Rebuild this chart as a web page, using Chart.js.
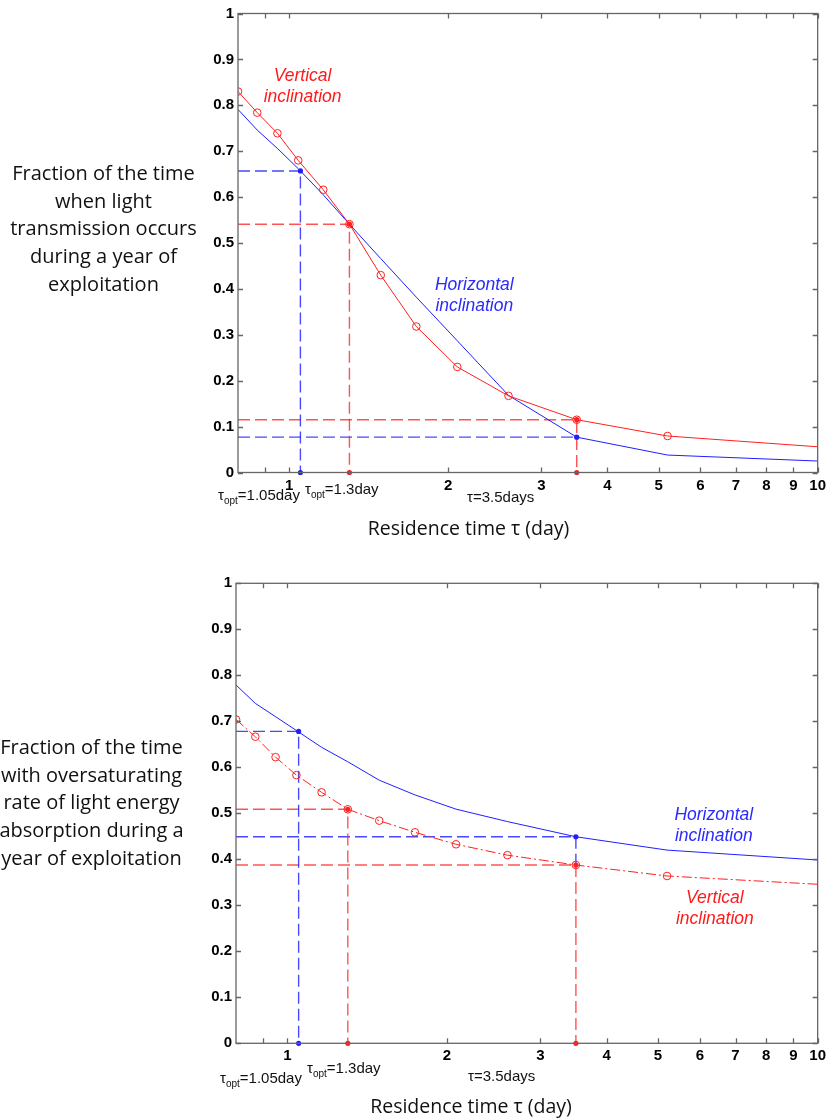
<!DOCTYPE html>
<html>
<head>
<meta charset="utf-8">
<script src="https://cdn.jsdelivr.net/npm/chart.js@4.4.1/dist/chart.umd.min.js"></script>
<style>
  body { margin: 0; background: #fff; }
  #wrap { position: relative; width: 830px; height: 1118px; overflow: hidden; }
  canvas { position: absolute; left: 0; }
  #transmission { top: 0; }
  #saturation { top: 560px; }
</style>
</head>
<body>
<div id="wrap">
  <canvas id="transmission" width="830" height="560"></canvas>
  <canvas id="saturation" width="830" height="558"></canvas>
</div>
<script>
// residence time tau (day), shared by every curve
const tau = [0.8, 0.87, 0.95, 1.04, 1.16, 1.3, 1.49, 1.74, 2.08, 2.6, 3.5, 5.2, 10];

// fraction of the time when light transmission occurs
const transHorizontal = [0.791, 0.746, 0.706, 0.662, 0.605, 0.541, 0.466, 0.382, 0.287, 0.168, 0.077, 0.038, 0.025];
const transVertical   = [0.83, 0.784, 0.739, 0.68, 0.616, 0.541, 0.43, 0.318, 0.23, 0.167, 0.115, 0.0795, 0.056];

// fraction of the time with oversaturating absorption
const satHorizontal = [0.779, 0.739, 0.71, 0.68, 0.6435, 0.612, 0.572, 0.54, 0.509, 0.482, 0.449, 0.42, 0.3985];
const satVertical   = [0.704, 0.6665, 0.622, 0.583, 0.5456, 0.5087, 0.484, 0.4587, 0.4326, 0.409, 0.3876, 0.3637, 0.3457];

// marked residence times and the values read there
const markTau  = [1.05, 1.3, 3.5];
const markSub  = ['opt', 'opt', ''];
const markUnit = ['day', 'day', 'days'];
const transMarkH = [0.657, null, 0.077];
const transMarkV = [null, 0.541, 0.115];
const satMarkH   = [0.678, null, 0.449];
const satMarkV   = [null, 0.5087, 0.3876];

// axis ticks
const xTicks = [0.9, 1, 2, 3, 4, 5, 6, 7, 8, 9, 10];
const xTickLabels = ['', '1', '2', '3', '4', '5', '6', '7', '8', '9', '10'];
const yTicks = [0, 0.1, 0.2, 0.3, 0.4, 0.5, 0.6, 0.7, 0.8, 0.9, 1];
const yTickLabels = ['0', '0.1', '0.2', '0.3', '0.4', '0.5', '0.6', '0.7', '0.8', '0.9', '1'];

const BLUE = '#1f1fff';
const RED = '#ff2020';
const BLUE_GUIDE = 'rgba(40,40,255,0.85)';
const RED_GUIDE = 'rgba(255,40,40,0.8)';
const X_MIN = 0.8, X_MAX = 10;

function pts(vals) {
  return tau.map((t, i) => ({ x: t, y: vals[i] }));
}

// dashed guides from the y axis to a marked point and down
function guides(markH, markV) {
  const sets = [];
  const dots = { blue: [], red: [] };
  markTau.forEach((t, i) => {
    const h = markH[i], v = markV[i];
    if (h != null) {
      const floor = v == null ? 0 : Math.min(h, v);
      sets.push({ data: [{ x: X_MIN, y: h }, { x: t, y: h }, { x: t, y: floor }], color: BLUE_GUIDE });
      dots.blue.push({ x: t, y: h });
      if (floor === 0) dots.blue.push({ x: t, y: 0 });
    }
    if (v != null) {
      sets.push({ data: [{ x: X_MIN, y: v }, { x: t, y: v }, { x: t, y: 0 }], color: RED_GUIDE });
      dots.red.push({ x: t, y: v });
      dots.red.push({ x: t, y: 0 });
    }
  });
  return { sets, dots };
}

function drawTauLabel(ctx, left, base, sub, rest) {
  ctx.textAlign = 'left';
  ctx.textBaseline = 'alphabetic';
  ctx.font = '15px "Liberation Sans", Arial, sans-serif';
  ctx.fillText('τ', left, base);
  let x = left + ctx.measureText('τ').width;
  if (sub) {
    ctx.font = '10px "Liberation Sans", Arial, sans-serif';
    ctx.fillText(sub, x, base + 4);
    x += ctx.measureText(sub).width;
  }
  ctx.font = '15px "Liberation Sans", Arial, sans-serif';
  ctx.fillText(rest, x, base);
}

function makeChart(id, cfg) {
  const g = guides(cfg.markH, cfg.markV);

  const datasets = [
    {
      label: 'Vertical inclination',
      data: pts(cfg.vertical),
      borderColor: RED,
      borderWidth: 1,
      borderDash: cfg.verticalDash,
      pointStyle: 'circle',
      pointRadius: tau.map((t, i) => (i === tau.length - 1 ? 0 : 3.8)),
      pointBorderColor: RED,
      pointBackgroundColor: 'rgba(255,255,255,0)',
      pointBorderWidth: 1,
      order: 1
    },
    {
      label: 'Horizontal inclination',
      data: pts(cfg.horizontal),
      borderColor: BLUE,
      borderWidth: 1,
      pointRadius: 0,
      order: 2
    },
    {
      data: g.dots.red,
      showLine: false,
      pointRadius: 2.6,
      pointBackgroundColor: RED,
      pointBorderColor: RED,
      borderWidth: 0,
      clip: false,
      order: 0
    },
    {
      data: g.dots.blue,
      showLine: false,
      pointRadius: 2.6,
      pointBackgroundColor: BLUE,
      pointBorderColor: BLUE,
      borderWidth: 0,
      clip: false,
      order: 0
    }
  ];
  g.sets.forEach(s => datasets.push({
    data: s.data,
    borderColor: s.color,
    borderWidth: 1.4,
    borderDash: [12, 5],
    pointRadius: 0,
    order: 5
  }));

  const decor = {
    id: 'decor',
    afterDraw(chart) {
      const { ctx, chartArea: a, scales: { x, y } } = chart;
      ctx.save();

      // box and inward ticks on all four sides
      ctx.strokeStyle = '#666';
      ctx.lineWidth = 1.3;
      ctx.strokeRect(a.left, a.top, a.right - a.left, a.bottom - a.top);
      ctx.beginPath();
      xTicks.forEach(v => {
        const px = Math.round(x.getPixelForValue(v)) + 0.5;
        ctx.moveTo(px, a.bottom); ctx.lineTo(px, a.bottom - 5);
        ctx.moveTo(px, a.top); ctx.lineTo(px, a.top + 5);
      });
      yTicks.forEach(v => {
        const py = Math.round(y.getPixelForValue(v)) + 0.5;
        ctx.moveTo(a.left, py); ctx.lineTo(a.left + 5, py);
        ctx.moveTo(a.right, py); ctx.lineTo(a.right - 5, py);
      });
      ctx.stroke();

      // curve labels
      ctx.font = 'italic 17.5px "Liberation Sans", Arial, sans-serif';
      ctx.textAlign = 'center';
      ctx.textBaseline = 'middle';
      cfg.notes.forEach(n => {
        ctx.fillStyle = n.color;
        const cx = x.getPixelForValue(n.x);
        const cy = y.getPixelForValue(n.y);
        n.lines.forEach((s, k) => ctx.fillText(s, cx, cy + k * 21.5));
      });

      // left description
      ctx.fillStyle = '#111';
      ctx.font = '20px "Open Sans", sans-serif';
      cfg.description.forEach((s, k) => ctx.fillText(s, cfg.descX, cfg.descY + k * 27.8));

      // marked residence times under the axis
      ctx.fillStyle = '#111';
      markTau.forEach((t, i) => {
        drawTauLabel(ctx, cfg.markLabelX[i], a.bottom + cfg.markLabelDy[i], markSub[i], '=' + t + markUnit[i]);
      });

      // axis title
      ctx.font = '19.5px "Open Sans", sans-serif';
      ctx.textAlign = 'center';
      ctx.textBaseline = 'middle';
      ctx.fillText('Residence time τ (day)', cfg.titleX, a.bottom + cfg.titleDy);

      ctx.restore();
    }
  };

  return new Chart(document.getElementById(id), {
    type: 'line',
    data: { datasets },
    options: {
      responsive: false,
      animation: false,
      devicePixelRatio: 1,
      layout: { padding: cfg.padding },
      plugins: { legend: { display: false }, tooltip: { enabled: false } },
      scales: {
        x: {
          type: 'logarithmic',
          min: X_MIN,
          max: X_MAX,
          afterBuildTicks: s => { s.ticks = xTicks.map(v => ({ value: v })); },
          afterFit: s => { s.height = cfg.xHeight; },
          grid: { display: false, drawTicks: false },
          border: { display: false },
          ticks: {
            autoSkip: false,
            maxRotation: 0,
            padding: 4,
            color: '#000',
            font: { family: '"Liberation Sans", Arial, sans-serif', size: 15, weight: 'bold' },
            callback: (v, i) => xTickLabels[i]
          }
        },
        y: {
          min: 0,
          max: 1,
          afterBuildTicks: s => { s.ticks = yTicks.map(v => ({ value: v })); },
          afterFit: s => { s.width = cfg.yWidth; },
          grid: { display: false, drawTicks: false },
          border: { display: false },
          ticks: {
            padding: 4,
            color: '#000',
            font: { family: '"Liberation Sans", Arial, sans-serif', size: 15, weight: 'bold' },
            callback: (v, i) => yTickLabels[i]
          }
        }
      }
    },
    plugins: [decor]
  });
}

makeChart('transmission', {
  horizontal: transHorizontal,
  vertical: transVertical,
  verticalDash: [],
  markH: transMarkH,
  markV: transMarkV,
  padding: { left: 0, right: 9, top: 13.5, bottom: 0 },
  yWidth: 238,
  xHeight: 87.5,
  notes: [
    { lines: ['Vertical', 'inclination'], x: 1.06, y: 0.864, color: '#ff1a1a' },
    { lines: ['Horizontal', 'inclination'], x: 2.24, y: 0.4085, color: '#2a2aff' }
  ],
  description: ['Fraction of the time', 'when light', 'transmission occurs', 'during a year of', 'exploitation'],
  descX: 103.5,
  descY: 174,
  markLabelX: [218, 305, 467],
  markLabelDy: [27, 21, 29],
  titleX: 468.5,
  titleDy: 57
});

makeChart('saturation', {
  horizontal: satHorizontal,
  vertical: satVertical,
  verticalDash: [10, 3, 2, 3],
  markH: satMarkH,
  markV: satMarkV,
  padding: { left: 0, right: 10, top: 23.3, bottom: 0 },
  yWidth: 236,
  xHeight: 74.7,
  notes: [
    { lines: ['Horizontal', 'inclination'], x: 6.37, y: 0.4963, color: '#2a2aff' },
    { lines: ['Vertical', 'inclination'], x: 6.4, y: 0.3165, color: '#ff1a1a' }
  ],
  description: ['Fraction of the time', 'with oversaturating', 'rate of light energy', 'absorption during a', 'year of exploitation'],
  descX: 91.5,
  descY: 188,
  markLabelX: [220, 307, 468],
  markLabelDy: [40, 30, 38],
  titleX: 471,
  titleDy: 64
});
</script>
</body>
</html>
